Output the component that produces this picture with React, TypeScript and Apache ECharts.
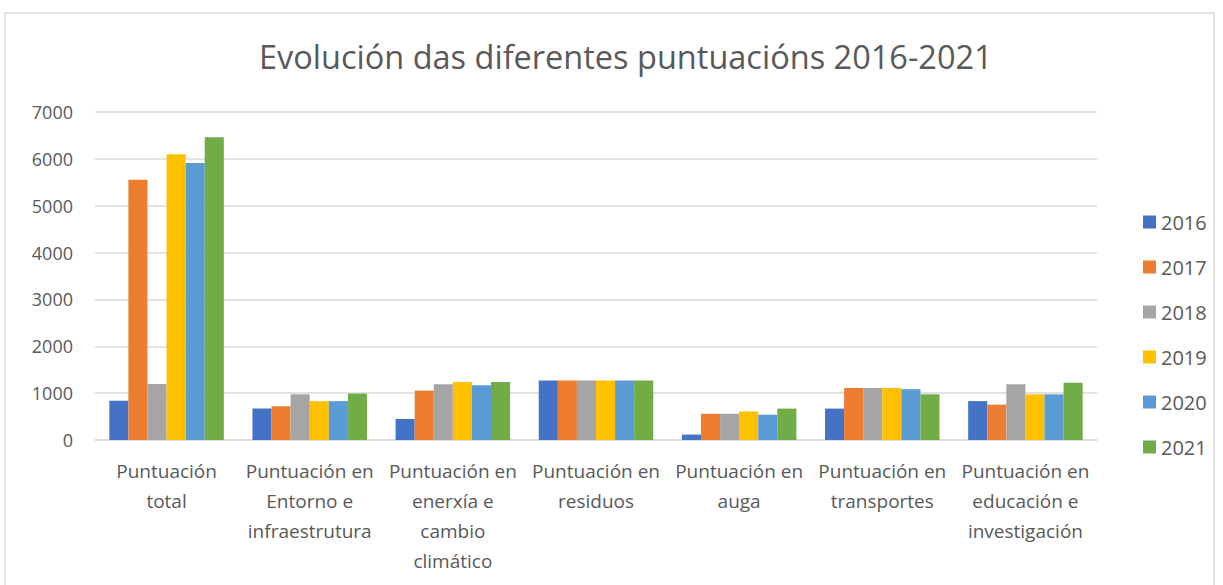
import React, { useEffect, useRef } from "react";
import * as echarts from "echarts";

const categories = [
  "Puntuación\ntotal",
  "Puntuación en\nEntorno e\ninfraestrutura",
  "Puntuación en\nenerxía e\ncambio\nclimático",
  "Puntuación en\nresiduos",
  "Puntuación en\nauga",
  "Puntuación en\ntransportes",
  "Puntuación en\neducación e\ninvestigación",
];
const years = ["2016", "2017", "2018", "2019", "2020", "2021"];
const s2016 = [840, 670, 450, 1270, 115, 670, 830];
const s2017 = [5555, 720, 1055, 1270, 560, 1110, 755];
const s2018 = [1195, 975, 1190, 1270, 560, 1110, 1190];
const s2019 = [6100, 830, 1240, 1270, 610, 1110, 975];
const s2020 = [5910, 830, 1170, 1270, 540, 1085, 975];
const s2021 = [6460, 990, 1240, 1270, 670, 975, 1220];
const seriesValues = [s2016, s2017, s2018, s2019, s2020, s2021];
const colors = ["#4472C4", "#ED7D31", "#A5A5A5", "#FFC000", "#5B9BD5", "#70AD47"];
const yTicks = { min: 0, max: 7000, interval: 1000 };
const title = "Evolución das diferentes puntuacións 2016-2021";

export default function App() {
  const ref = useRef<HTMLDivElement>(null);
  useEffect(() => {
    const chart = echarts.init(ref.current!, null, { renderer: "svg" });
    const font = "Open Sans, Liberation Sans, sans-serif";
    chart.setOption({
      animation: false,
      backgroundColor: "#ffffff",
      textStyle: { fontFamily: font },
      title: {
        text: title,
        left: 254,
        top: 35,
        textStyle: { color: "#595959", fontSize: 32.5, fontWeight: "normal", fontFamily: font },
      },
      graphic: [
        {
          type: "rect",
          shape: { x: 5, y: 13, width: 1209, height: 600 },
          style: { fill: "none", stroke: "#d9d9d9", lineWidth: 1.5 },
          silent: true,
        },
      ],
      legend: {
        orient: "vertical",
        left: 1138,
        top: 207,
        itemWidth: 13,
        itemHeight: 13,
        itemGap: 25,
        icon: "rect",
        data: years,
        textStyle: { color: "#595959", fontSize: 20, fontFamily: font, padding: [0, 0, 0, 0] },
      },
      grid: { left: 95, right: 126, top: 112, bottom: 145, containLabel: false },
      xAxis: {
        type: "category",
        data: categories,
        axisTick: { show: false },
        axisLine: { lineStyle: { color: "#d9d9d9", width: 1.5 } },
        axisLabel: {
          interval: 0,
          color: "#595959",
          fontSize: 19,
          lineHeight: 30,
          margin: 16,
          fontFamily: font,
        },
      },
      yAxis: {
        type: "value",
        min: yTicks.min,
        max: yTicks.max,
        interval: yTicks.interval,
        axisLine: { show: false },
        axisTick: { show: false },
        splitLine: { lineStyle: { color: "#d9d9d9", width: 1.5 } },
        axisLabel: {
          color: "#595959",
          fontSize: 18,
          margin: 22,
          fontFamily: font,
          formatter: (v: number) => String(v),
        },
      },
      series: years.map((y, i) => ({
        name: y,
        type: "bar",
        data: seriesValues[i],
        barGap: "0%",
        barCategoryGap: "20%",
        itemStyle: { color: colors[i] },
      })),
    });
    return () => chart.dispose();
  }, []);
  return (
    <div
      ref={ref}
      style={{ position: "absolute", left: 0, top: 0, width: 1223, height: 585 }}
    />
  );
}
